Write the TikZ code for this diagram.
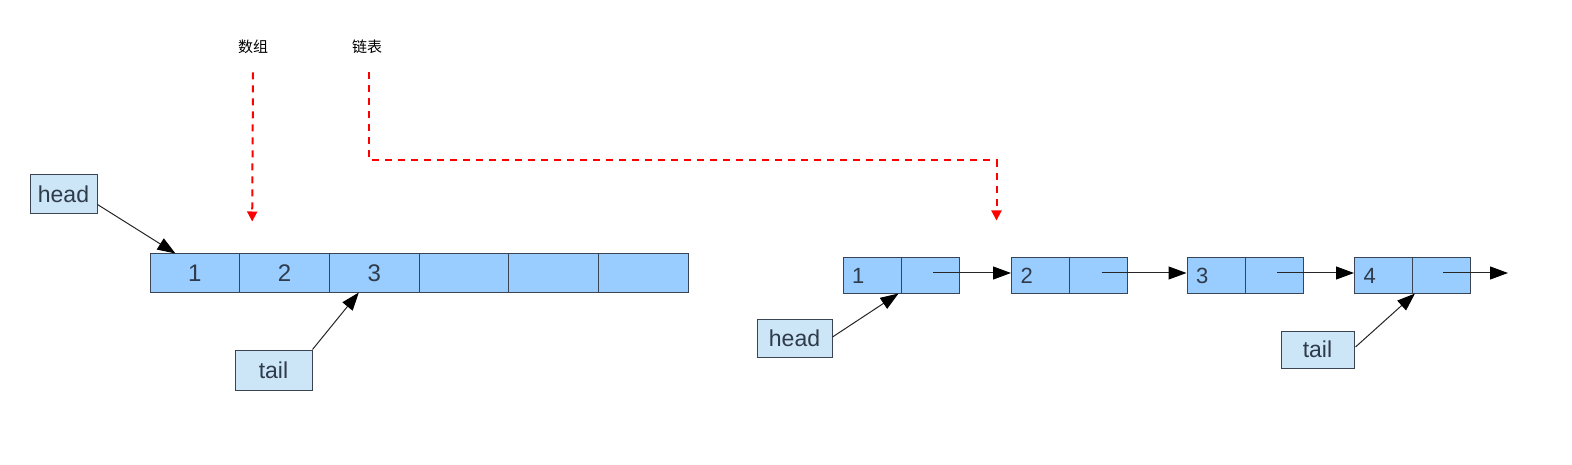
\documentclass[tikz,border=0pt]{standalone}
\usepackage{fontspec}
\setmainfont{Liberation Sans}
\newfontfamily\cjk{Noto Sans CJK SC}
\usetikzlibrary{arrows.meta,calc}
\definecolor{cellblue}{HTML}{99CCFF}
\definecolor{ptrblue}{HTML}{CCE5F7}
\definecolor{edge}{HTML}{3A4452}
\definecolor{txt}{HTML}{2E3B4A}
\definecolor{dashred}{HTML}{FF0000}
\tikzset{
  cellbox/.style={draw=edge, line width=1pt, fill=cellblue, inner sep=0pt,
    minimum width=89.67pt, minimum height=38pt, text=txt,
    font=\fontsize{24}{28}\selectfont},
  lcell/.style={draw=edge, line width=1pt, fill=cellblue, inner sep=0pt,
    minimum width=58pt, minimum height=35pt, text=txt,
    font=\fontsize{22}{26}\selectfont},
  lnum/.style={lcell, inner xsep=9pt, text width=40pt, align=left},
  ptrbox/.style={draw=edge, line width=1pt, fill=ptrblue, inner sep=0pt,
    text=txt, font=\fontsize{23}{27}\selectfont},
  ptrarrow/.style={draw=black!85, line width=1pt,
    -{Triangle[length=18pt,width=13pt,fill=black,color=black]}},
  lbl/.style={font=\cjk\fontsize{15}{17}\selectfont, text=black},
  redarrow/.style={draw=dashred, line width=2pt, dash pattern=on 7pt off 6pt,
    -{Triangle[length=10pt,width=10pt]}}
}
\begin{document}
\begin{tikzpicture}[x=1pt,y=-1pt]
\useasboundingbox[fill=white] (0,0) rectangle (1572,465);

% labels
\node[lbl] (lab1) at (253,47) {数组};
\node[lbl] (lab2) at (367,47) {链表};

% array
\foreach \i/\t in {1/1,2/2,3/3,4/,5/,6/}{
  \node[cellbox] (c\i) at ({150+89.67*(\i-0.5)},273) {\t};
}

% left pointers
\node[ptrbox, minimum width=67pt, minimum height=39pt] (headA) at (63.5,194.5) {head};
\node[ptrbox, minimum width=77pt, minimum height=40pt] (tailA) at (273.5,370) {tail};

% linked list
\node[lnum] (n1a) at (872,275.5) {1};
\node[lcell] (n1b) at (930,275.5) {};
\node[lnum] (n2a) at (1040.5,275.5) {2};
\node[lcell] (n2b) at (1098.5,275.5) {};
\node[lnum] (n3a) at (1216,275.5) {3};
\node[lcell] (n3b) at (1274,275.5) {};
\node[lnum] (n4a) at (1383.5,275.5) {4};
\node[lcell] (n4b) at (1441.5,275.5) {};
\coordinate (nend) at (1508,273);

% right pointers
\node[ptrbox, minimum width=75pt, minimum height=38pt] (headB) at (794.5,338) {head};
\node[ptrbox, minimum width=73pt, minimum height=37pt] (tailB) at (1317.5,349.5) {tail};

% pointer arrows
\draw[ptrarrow] ($(headA.south east)+(0,-10)$) -- ($(c1.north west)+(26,0)$);
\draw[ptrarrow] (tailA.north east) -- ($(c3.south west)+(30,0)$);
\draw[ptrarrow] ($(headB.east)+(0,-1)$) -- ($(n1a.south east)+(-3,0)$);
\draw[ptrarrow] ($(tailB.east)+(1,-2.5)$) -- ($(n4a.south east)+(2,0)$);

% next arrows
\draw[ptrarrow] ($(n1b.center)+(3,-2.5)$) -- ($(n2a.west)+(0,-2.5)$);
\draw[ptrarrow] ($(n2b.center)+(3,-2.5)$) -- ($(n3a.west)+(0,-2.5)$);
\draw[ptrarrow] ($(n3b.center)+(3,-2.5)$) -- ($(n4a.west)+(0,-2.5)$);
\draw[ptrarrow] ($(n4b.center)+(1.5,-2.5)$) -- (nend);

% red dashed arrows
\draw[redarrow] ($(lab1.south)+(0,15)$) -- ($(c2.north west)+(13,-32)$);
\draw[redarrow] ($(lab2.south)+(2,15)$) -- ++(0,88) -| ($(n1b.north east)+(37,-37)$);
\end{tikzpicture}
\end{document}
